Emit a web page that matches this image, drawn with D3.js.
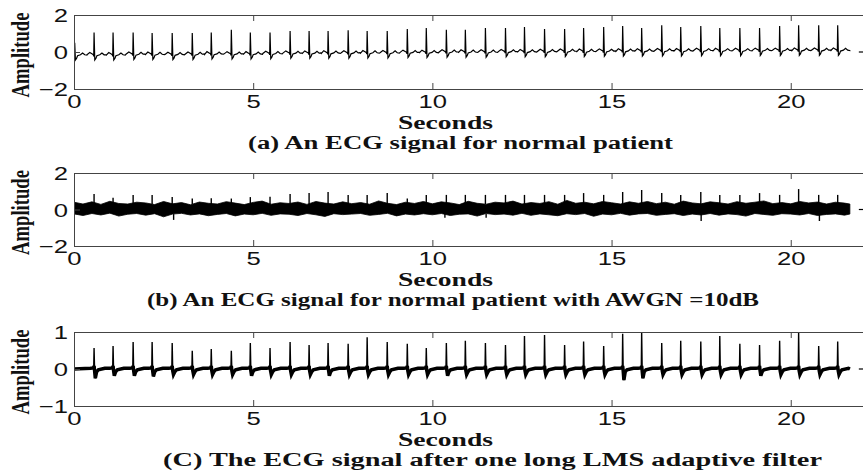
<!DOCTYPE html>
<html>
<head>
<meta charset="utf-8">
<script src="https://cdn.jsdelivr.net/npm/d3@7"></script>
<style>
  body { margin: 0; background: #fff; }
  .tick text { font-family: "Liberation Sans", Arial, sans-serif; font-size: 19px; fill: #111; }
  .lbl { font-family: "Liberation Serif", "Times New Roman", serif; font-weight: bold; font-size: 18px; fill: #111; }
</style>
</head>
<body>
<svg id="chart" width="863" height="475"></svg>
<script>
// beat (R peak) times in seconds, shared by the three recordings
const beatTimes = [0.56, 1.09, 1.65, 2.18, 2.74, 3.30, 3.83, 4.39, 4.92, 5.47,
  6.03, 6.56, 7.09, 7.65, 8.18, 8.74, 9.30, 9.83, 10.39, 10.92,
  11.48, 12.04, 12.57, 13.13, 13.69, 14.22, 14.78, 15.31, 15.84, 16.40,
  16.93, 17.49, 18.02, 18.58, 19.13, 19.69, 20.22, 20.78, 21.31];

// (a) clean ECG
const peaksA = [1.05, 1.05, 1.05, 1.03, 1.03, 1.03, 1.05, 1.2, 1.05, 1.05,
  1.13, 1.13, 1.13, 1.18, 1.13, 1.13, 1.24, 1.3, 1.2, 1.2,
  1.3, 1.3, 1.35, 1.24, 1.24, 1.3, 1.35, 1.4, 1.3, 1.45,
  1.35, 1.4, 1.3, 1.3, 1.3, 1.4, 1.45, 1.45, 1.45];
const baseA = [-0.15, -0.15, -0.12, -0.12, -0.13, -0.12, -0.1, -0.1, -0.1, -0.08,
  -0.06, -0.06, -0.05, -0.05, -0.04, -0.04, -0.02, -0.02, 0, 0,
  0, 0.02, 0.02, 0.03, 0.04, 0.04, 0.05, 0.06, 0.06, 0.07,
  0.07, 0.08, 0.08, 0.08, 0.09, 0.09, 0.1, 0.1, 0.1];
const partialBeatA = 0.02, partialPeakA = 0.5;
// one beat of (a): offset from R (s) and level above baseline, null = R peak
const shapeOffsetsA = [-0.2, -0.12, -0.06, -0.02, -0.01, 0, 0.02, 0.05, 0.08, 0.16, 0.22, 0.28, 0.34];
const shapeValuesA  = [0, 0.12, 0.05, 0, -0.08, null, -0.28, -0.2, -0.05, 0, 0.1, 0, -0.02];

// (b) ECG with AWGN: noise band edges every 0.25 s, plus R spikes
const bandUpperB = [0.40, 0.30, 0.42, 0.28, 0.45, 0.33, 0.30, 0.40,
  0.36, 0.27, 0.44, 0.31, 0.38, 0.26, 0.41, 0.34,
  0.30, 0.43, 0.35, 0.27, 0.39, 0.46, 0.29, 0.37,
  0.33, 0.41, 0.28, 0.44, 0.35, 0.30, 0.42, 0.32,
  0.38, 0.29, 0.47, 0.34, 0.27, 0.40, 0.33, 0.44,
  0.31, 0.42, 0.36, 0.27, 0.45, 0.34, 0.29, 0.40,
  0.36, 0.46, 0.30, 0.38, 0.33, 0.43, 0.29, 0.50,
  0.34, 0.40, 0.31, 0.44, 0.37, 0.30, 0.42, 0.34,
  0.44, 0.32, 0.40, 0.29, 0.46, 0.36, 0.31, 0.42,
  0.37, 0.30, 0.43, 0.34, 0.40, 0.47, 0.32, 0.38,
  0.31, 0.44, 0.36, 0.41, 0.30, 0.40, 0.35, 0.30];
const bandLowerB = [-0.24, -0.33, -0.22, -0.30, -0.20, -0.36, -0.26, -0.22,
  -0.31, -0.23, -0.40, -0.25, -0.21, -0.30, -0.24, -0.34,
  -0.27, -0.22, -0.35, -0.25, -0.29, -0.21, -0.32, -0.24,
  -0.26, -0.33, -0.22, -0.29, -0.38, -0.23, -0.28, -0.25,
  -0.22, -0.32, -0.27, -0.21, -0.35, -0.25, -0.30, -0.23,
  -0.29, -0.22, -0.33, -0.26, -0.24, -0.36, -0.22, -0.28,
  -0.25, -0.31, -0.21, -0.32, -0.24, -0.29, -0.34, -0.23,
  -0.28, -0.22, -0.37, -0.25, -0.29, -0.21, -0.31, -0.24,
  -0.22, -0.32, -0.27, -0.23, -0.33, -0.25, -0.30, -0.22,
  -0.31, -0.24, -0.28, -0.36, -0.22, -0.27, -0.32, -0.23,
  -0.25, -0.30, -0.22, -0.33, -0.27, -0.24, -0.31, -0.25];
const bandStep = 0.25;
const peaksB = [0.85, 0.65, 0.8, 0.8, 0.68, 0.6, 0.62, 0.6, 0.68, 0.7,
  0.85, 0.9, 0.96, 0.8, 0.8, 0.9, 0.6, 0.8, 0.8, 0.8,
  0.8, 0.8, 0.8, 0.8, 0.8, 0.9, 0.8, 0.96, 1.07, 0.9,
  0.8, 0.96, 0.8, 0.8, 0.9, 0.8, 1.12, 0.8, 0.8];
const dipTimesB = [2.78, 10.35, 11.5, 17.5, 20.8];
const dipValuesB = [-0.57, -0.45, -0.45, -0.63, -0.63];

// (c) after LMS filter
const peaksC = [0.57, 0.62, 0.73, 0.73, 0.7, 0.49, 0.54, 0.49, 0.7, 0.57,
  0.73, 0.65, 0.7, 0.68, 0.86, 0.73, 0.68, 0.57, 0.7, 0.76,
  0.7, 0.65, 0.89, 0.92, 0.65, 0.74, 0.62, 0.95, 1.0, 0.7,
  0.76, 0.74, 0.89, 0.68, 0.65, 0.76, 1.0, 0.62, 0.74];
const sDepthC = [-0.25, -0.18, -0.18, -0.2, -0.15, -0.15, -0.15, -0.15, -0.18, -0.15,
  -0.15, -0.15, -0.18, -0.15, -0.15, -0.15, -0.15, -0.15, -0.18, -0.15,
  -0.15, -0.15, -0.15, -0.15, -0.15, -0.15, -0.15, -0.3, -0.25, -0.15,
  -0.15, -0.15, -0.15, -0.15, -0.18, -0.15, -0.15, -0.15, -0.15];
const shapeOffsetsC = [-0.1, -0.02, -0.01, 0, 0.015, 0.035, 0.07, 0.12, 0.3];
const shapeValuesC  = [0.02, 0.03, 0.05, null, -0.05, 'S', -0.08, -0.02, 0.02];

const signalEnd = 21.65;
const tailTimes = [21.9, 22.05];

const xTicks = [0, 5, 10, 15, 20];
const yTicksAB = [-2, 0, 2];
const yTicksC = [-1, 0, 1];
const captions = [
  '(a) An ECG signal for normal patient',
  '(b) An ECG signal for normal patient with AWGN =10dB',
  '(C) The ECG signal after one long LMS adaptive filter'
];

const svg = d3.select('#chart');
const left = 74, right = 866;
const x = d3.scaleLinear().domain([0, 22.1]).range([left, right]);
const stretch = 1.35;

const panels = [
  { top: 15, bottom: 89, yDomain: [-2, 2], yTicks: yTicksAB, capX: 248, capW: 425 },
  { top: 173, bottom: 246, yDomain: [-2, 2], yTicks: yTicksAB, capX: 147, capW: 612 },
  { top: 332, bottom: 406, yDomain: [-1, 1], yTicks: yTicksC, capX: 163, capW: 659 }
];

function buildBeats(times, peaks, base, offsets, values, sVals) {
  const pts = [];
  times.forEach((t, i) => {
    offsets.forEach((o, j) => {
      const tt = t + o;
      if (tt < 0 || tt > signalEnd) return;
      let v;
      if (values[j] === null) v = peaks[i];
      else if (values[j] === 'S') v = sVals[i];
      else v = values[j] + (base ? base[i] : 0);
      pts.push([tt, v]);
    });
  });
  pts.sort((a, b) => a[0] - b[0]);
  return pts;
}

panels.forEach((p, k) => {
  const y = d3.scaleLinear().domain(p.yDomain).range([p.bottom, p.top]);
  const g = svg.append('g');
  const clipId = 'clip' + k;
  svg.append('clipPath').attr('id', clipId).append('rect')
    .attr('x', left).attr('y', p.top).attr('width', right - left).attr('height', p.bottom - p.top);
  const plot = g.append('g').attr('clip-path', `url(#${clipId})`);
  const line = d3.line().x((d) => x(d[0])).y((d) => y(d[1]));

  if (k === 0) {
    const pts = buildBeats([partialBeatA, ...beatTimes], [partialPeakA, ...peaksA], [baseA[0], ...baseA],
      shapeOffsetsA, shapeValuesA, null);
    pts.unshift([0, -0.05]);
    pts.push([signalEnd, baseA[baseA.length - 1]]);
    plot.append('path').attr('d', line(pts)).attr('fill', 'none').attr('stroke', '#000').attr('stroke-width', 1.2);
  } else if (k === 1) {
    const band = bandUpperB.map((u, i) => [i * bandStep, bandLowerB[i], u]).filter((d) => d[0] <= signalEnd);
    band.push([signalEnd, bandLowerB[bandLowerB.length - 1], bandUpperB[bandUpperB.length - 1]]);
    plot.append('path')
      .attr('d', d3.area().x((d) => x(d[0])).y0((d) => y(d[1])).y1((d) => y(d[2]))(band))
      .attr('fill', '#000').attr('stroke', '#000').attr('stroke-width', 0.8);
    plot.selectAll('line.spike').data(beatTimes).enter().append('line')
      .attr('x1', (d) => x(d)).attr('x2', (d) => x(d))
      .attr('y1', y(0.3)).attr('y2', (d, i) => y(peaksB[i]))
      .attr('stroke', '#000').attr('stroke-width', 1.4);
    plot.selectAll('line.dip').data(dipTimesB).enter().append('line')
      .attr('x1', (d) => x(d)).attr('x2', (d) => x(d))
      .attr('y1', y(-0.25)).attr('y2', (d, i) => y(dipValuesB[i]))
      .attr('stroke', '#000').attr('stroke-width', 1.4);
  } else {
    const pts = buildBeats(beatTimes, peaksC, null, shapeOffsetsC, shapeValuesC, sDepthC);
    pts.unshift([0, 0]);
    pts.push([signalEnd, 0]);
    // thick noisy baseline, thin spikes on top
    plot.append('path').attr('d', line(pts.map((d) => [d[0], Math.min(d[1], 0.08)])))
      .attr('fill', 'none').attr('stroke', '#000').attr('stroke-width', 3.5);
    plot.append('path').attr('d', line(pts)).attr('fill', 'none').attr('stroke', '#000').attr('stroke-width', 1.4);
  }

  // little tail segment after the gap
  plot.append('path').attr('d', line(tailTimes.map((t) => [t, 0])))
    .attr('fill', 'none').attr('stroke', '#000').attr('stroke-width', 1.2);

  // axes
  const bottomAxis = g.append('g').attr('transform', `translate(0,${p.bottom})`)
    .call(d3.axisBottom(x).tickValues(xTicks).tickSizeInner(-6).tickSizeOuter(0));
  bottomAxis.selectAll('.tick text')
    .attr('y', 19).attr('dy', null)
    .attr('transform', `scale(${stretch},1)`);
  g.append('g').attr('transform', `translate(0,${p.top})`)
    .call(d3.axisTop(x).tickValues(xTicks).tickSizeInner(-6).tickSizeOuter(0).tickFormat(''));
  const leftAxis = g.append('g').attr('transform', `translate(${left},0)`)
    .call(d3.axisLeft(y).tickValues(p.yTicks).tickSizeInner(-6).tickSizeOuter(0).tickFormat(d3.format('d')));
  leftAxis.selectAll('.tick text')
    .attr('x', 0).attr('dy', '0.36em')
    .attr('transform', `translate(-6,0) scale(${stretch},1)`);
  g.selectAll('.domain, .tick line').attr('stroke', '#444');

  g.append('text').attr('class', 'lbl')
    .attr('text-anchor', 'middle')
    .attr('transform', `translate(29,${(p.top + p.bottom) / 2 + 3}) scale(${stretch},1) rotate(-90)`)
    .attr('textLength', 85).attr('lengthAdjust', 'spacingAndGlyphs')
    .text('Amplitude');

  g.append('text').attr('class', 'lbl')
    .attr('x', 398).attr('y', p.bottom + 40)
    .attr('textLength', 95).attr('lengthAdjust', 'spacingAndGlyphs')
    .text('Seconds');

  g.append('text').attr('class', 'lbl')
    .attr('x', p.capX).attr('y', p.bottom + 60)
    .attr('textLength', p.capW).attr('lengthAdjust', 'spacingAndGlyphs')
    .text(captions[k]);
});
</script>
</body>
</html>
